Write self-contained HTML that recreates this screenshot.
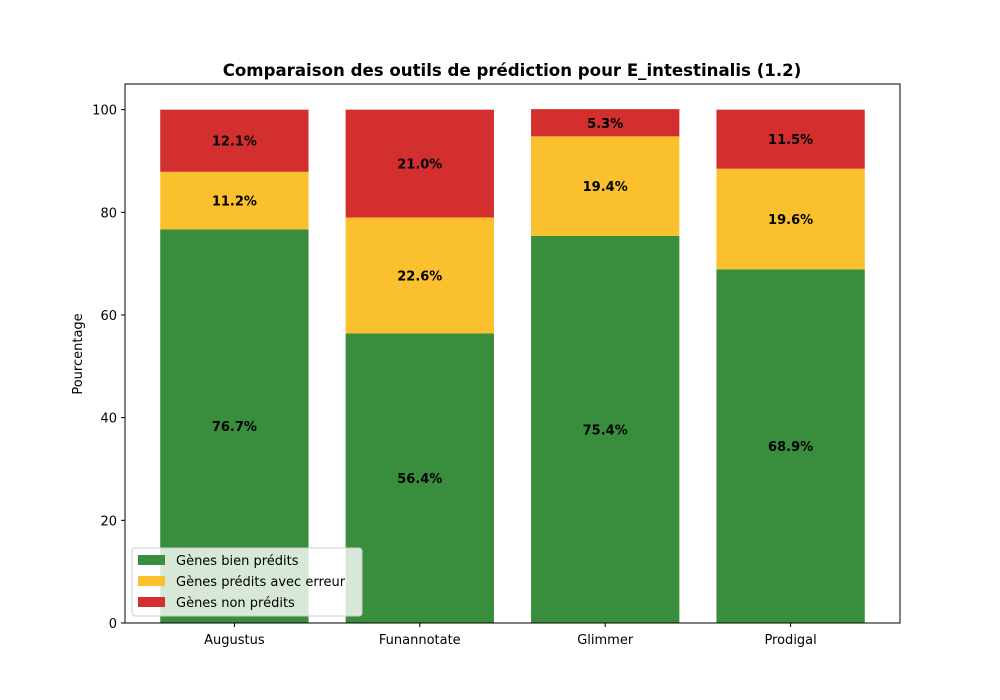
<!DOCTYPE html>
<html><head><meta charset="utf-8"><style>body{margin:0;background:#fff}svg{display:block;font-family:"DejaVu Sans","Liberation Sans",sans-serif}</style></head>
<body>
<svg id="chart" width="1000" height="700" xmlns="http://www.w3.org/2000/svg"></svg>
<script>
const categories = ["Augustus","Funannotate","Glimmer","Prodigal"];
const goodValues = [76.7,56.4,75.4,68.9];
const errorValues = [11.2,22.6,19.4,19.6];
const missedValues = [12.1,21.0,5.3,11.5];
const yTicks = [0,20,40,60,80,100];
const seriesNames = ["Gènes bien prédits","Gènes prédits avec erreur","Gènes non prédits"];
const colors = ["#388e3c","#fbc02d","#d32f2f"];

const svg = document.getElementById('chart');
const NS = 'http://www.w3.org/2000/svg';
const L=125,R=900,T=84,B=623;
const x = v => L + (v + 0.59) / 4.18 * (R - L);
const y = v => B - v / 105 * (B - T);
function el(tag, attrs, parent) { const e = document.createElementNS(NS, tag); for (const k in attrs) e.setAttribute(k, attrs[k]); (parent||svg).appendChild(e); return e; }
function txt(s, attrs) { const t = el('text', attrs); t.textContent = s; return t; }

const series = [goodValues, errorValues, missedValues];
categories.forEach((c, i) => {
  let base = 0;
  series.forEach((vals, s) => {
    const v = vals[i];
    const r = el('rect', {x: x(i-0.4), y: y(base+v), width: x(i+0.4)-x(i-0.4), height: y(base)-y(base+v), fill: colors[s]});
    
    
    const t = txt(v.toFixed(1) + '%', {x: x(i), y: y(base+v/2)+5, 'text-anchor':'middle', 'font-size':13, 'font-weight':'bold', fill:'#000'});
    
    
    base += v;
  });
  el('line', {x1:x(i), x2:x(i), y1:B, y2:B+4, stroke:'#000'});
  const lab = txt(c, {x:x(i), y:B+21, 'text-anchor':'middle', 'font-size':13});
  
  
});
yTicks.forEach(v => {
  el('line', {x1:L-4, x2:L, y1:y(v), y2:y(v), stroke:'#000'});
  const t = txt(String(v), {x:L-8, y:y(v)+5, 'text-anchor':'end', 'font-size':13});
  
  
});
const frame = el('rect', {x:L, y:T, width:R-L, height:B-T, fill:'none', stroke:'#000', 'stroke-width':1});


const title = txt('Comparaison des outils de prédiction pour E_intestinalis (1.2)', {x:512, y:76, 'text-anchor':'middle', 'font-size':16.6, 'font-weight':'bold'});


const yl = txt('Pourcentage', {x:0, y:0, 'text-anchor':'middle', 'font-size':13, transform:'translate(82,354) rotate(-90)'});



const lg = el('g', {});


el('rect', {x:132, y:548, width:230, height:68, rx:3, fill:'#fff', 'fill-opacity':0.8, stroke:'#ccc'}, lg);
seriesNames.forEach((n, s) => {
  el('rect', {x:138, y:555+s*21, width:27, height:10, fill:colors[s]}, lg);
  const t = el('text', {x:176, y:565+s*21, 'font-size':13}, lg);
  t.textContent = n;
  
  
});
</script>
</body></html>
